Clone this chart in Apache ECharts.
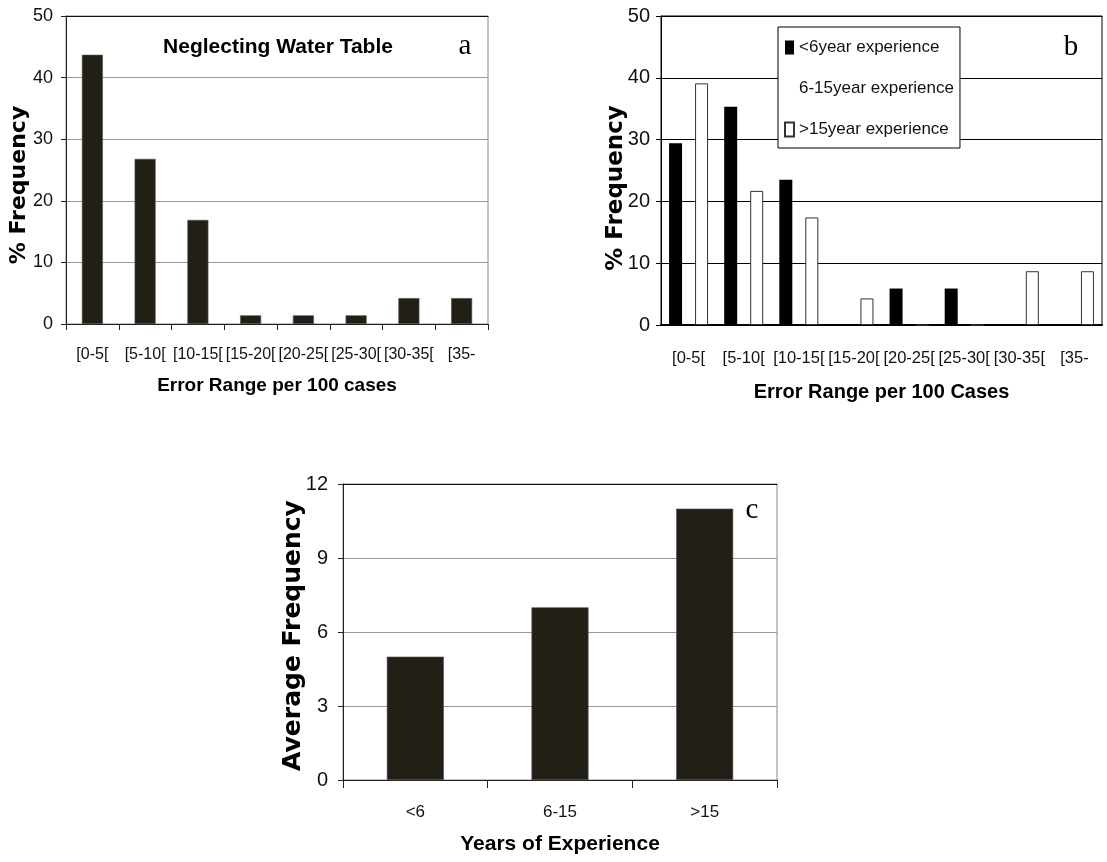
<!DOCTYPE html>
<html>
<head>
<meta charset="utf-8">
<script src="https://cdn.jsdelivr.net/npm/echarts@6/dist/echarts.min.js"></script>
<style>
  html, body { margin: 0; padding: 0; background: #fff; }
  #chart { width: 1107px; height: 862px; }
</style>
</head>
<body>
<div id="chart"></div>
<script>
// Error ranges (per 100 cases)
const rangeLabels = ['[0-5[', '[5-10[', '[10-15[', '[15-20[', '[20-25[', '[25-30[', '[30-35[', '[35-'];
// (a) neglecting water table, % frequency
const neglectWaterTable = [43.7, 26.8, 16.9, 1.4, 1.4, 1.4, 4.2, 4.2];
// (b) % frequency by experience
const under6Years = [29.4, 35.3, 23.5, 0, 5.9, 5.9, 0, 0];
const from6to15Years = [];
const over15Years = [39.1, 21.7, 17.4, 4.3, 0, 0, 8.7, 8.7];
// (c) average frequency by years of experience
const experienceGroups = ['<6', '6-15', '>15'];
const averageFrequency = [5, 7, 11];
const freqTicks = { min: 0, max: 50, interval: 10 };
const avgTicks = { min: 0, max: 12, interval: 3 };

const NARROW = '"Liberation Sans Narrow", "Arial Narrow", "Liberation Sans", Arial, sans-serif';
const WIDE_BOLD = '"DejaVu Sans", Verdana, sans-serif';
const SERIF = '"Liberation Serif", "Times New Roman", serif';
const BAR_DARK = '#211f16';

const chart = echarts.init(document.getElementById('chart'), null, { renderer: 'canvas' });

function valueAxis(grid, ticks, name, opts) {
  return {
    gridIndex: grid, type: 'value', min: ticks.min, max: ticks.max, interval: ticks.interval,
    name: name, nameLocation: 'middle', nameGap: opts.nameGap, nameMoveOverlap: false,
    nameTextStyle: { fontFamily: WIDE_BOLD, fontWeight: 'bold', fontSize: opts.nameSize, color: '#000',
                     padding: opts.namePad },
    axisLine: { show: true, lineStyle: { color: opts.axisColor, width: opts.axisWidth || 1 } },
    axisTick: { show: true, length: 5, lineStyle: { color: opts.axisColor } },
    axisLabel: { margin: opts.labelMargin, fontFamily: NARROW, fontSize: opts.labelSize, color: '#111' },
    splitLine: { show: true, lineStyle: { color: opts.gridColor, width: 1 } }
  };
}

function categoryAxis(grid, cats, name, opts) {
  return {
    gridIndex: grid, type: 'category', data: cats,
    name: name, nameLocation: 'middle', nameGap: opts.nameGap, nameMoveOverlap: false,
    nameTextStyle: { fontFamily: NARROW, fontWeight: 'bold', fontSize: opts.nameSize, color: '#000' },
    axisLine: { show: true, lineStyle: { color: opts.axisColor, width: opts.axisWidth || 1 } },
    axisTick: { show: opts.ticks, length: opts.tickLen || 6, lineStyle: { color: opts.axisColor } },
    axisLabel: { interval: 0, margin: opts.labelMargin, fontFamily: NARROW, fontSize: opts.labelSize, color: '#111' },
    splitLine: { show: false }
  };
}

// plain top edge line of each plot frame
function topEdge(grid, cats, color) {
  return {
    gridIndex: grid, type: 'category', data: cats, position: 'top',
    axisLine: { show: true, lineStyle: { color: color, width: 1 } },
    axisTick: { show: false }, axisLabel: { show: false }, splitLine: { show: false }
  };
}

const option = {
  backgroundColor: '#fff',
  animation: false,
  title: [
    { text: 'Neglecting Water Table', left: 278, top: 37, textAlign: 'center', padding: 0,
      textStyle: { fontFamily: NARROW, fontWeight: 'bold', fontSize: 21, color: '#000' } },
    { text: 'a', left: 465, top: 32, textAlign: 'center', padding: 0,
      textStyle: { fontFamily: SERIF, fontWeight: 'normal', fontSize: 29, color: '#000' } },
    { text: 'b', left: 1071, top: 33, textAlign: 'center', padding: 0,
      textStyle: { fontFamily: SERIF, fontWeight: 'normal', fontSize: 29, color: '#000' } },
    { text: 'c', left: 752, top: 496, textAlign: 'center', padding: 0,
      textStyle: { fontFamily: SERIF, fontWeight: 'normal', fontSize: 29, color: '#000' } }
  ],
  legend: {
    data: ['<6year experience', '6-15year experience', '>15year experience'],
    orient: 'vertical', left: 778, top: 27,
    padding: [12, 6, 10, 6], itemGap: 24, itemWidth: 9, itemHeight: 14,
    icon: 'rect',
    backgroundColor: '#fff', borderColor: '#000', borderWidth: 1,
    textStyle: { fontFamily: NARROW, fontSize: 17, color: '#111' },
    selectedMode: false
  },
  grid: [
    { left: 66, top: 16, width: 422, height: 308, show: true, borderColor: '#888', borderWidth: 1, outerBoundsMode: 'none' },
    { left: 661, top: 16, width: 441, height: 309, show: true, borderColor: '#000', borderWidth: 1, outerBoundsMode: 'none' },
    { left: 343, top: 484, width: 434, height: 296, show: true, borderColor: '#888', borderWidth: 1, outerBoundsMode: 'none' }
  ],
  xAxis: [
    categoryAxis(0, rangeLabels, 'Error Range per 100 cases',
      { nameGap: 52, nameSize: 19, axisColor: '#222', ticks: true, tickLen: 6, labelMargin: 23, labelSize: 16 }),
    categoryAxis(1, rangeLabels, 'Error Range per 100 Cases',
      { nameGap: 57, nameSize: 20, axisColor: '#000', axisWidth: 2, ticks: false, labelMargin: 25, labelSize: 16.5 }),
    categoryAxis(2, experienceGroups, 'Years of Experience',
      { nameGap: 54, nameSize: 21, axisColor: '#222', ticks: true, tickLen: 8, labelMargin: 24, labelSize: 17 }),
    topEdge(0, rangeLabels, '#111'),
    topEdge(1, rangeLabels, '#000'),
    topEdge(2, experienceGroups, '#111')
  ],
  yAxis: [
    valueAxis(0, freqTicks, '% Frequency',
      { nameGap: 36, nameSize: 22, namePad: [0, 30, 0, 0], axisColor: '#222', gridColor: '#999', labelMargin: 13, labelSize: 18 }),
    valueAxis(1, freqTicks, '% Frequency',
      { nameGap: 33, nameSize: 23, namePad: [0, 35, 0, 0], axisColor: '#000', gridColor: '#000', labelMargin: 11, labelSize: 20 }),
    valueAxis(2, avgTicks, 'Average Frequency',
      { nameGap: 37, nameSize: 25, namePad: [0, 7, 0, 0], axisColor: '#222', gridColor: '#999', labelMargin: 15, labelSize: 20 })
  ],
  series: [
    { type: 'bar', name: 'Neglecting Water Table', xAxisIndex: 0, yAxisIndex: 0, data: neglectWaterTable,
      barWidth: 21, itemStyle: { color: BAR_DARK, borderColor: '#55534a', borderWidth: 0.6 } },
    { type: 'bar', name: '<6year experience', xAxisIndex: 1, yAxisIndex: 1, data: under6Years,
      barWidth: 13, barGap: 0, itemStyle: { color: '#000' } },
    { type: 'bar', name: '6-15year experience', xAxisIndex: 1, yAxisIndex: 1, data: from6to15Years,
      barWidth: 13, barGap: 0, itemStyle: { color: '#fff', borderWidth: 0 } },
    { type: 'bar', name: '>15year experience', xAxisIndex: 1, yAxisIndex: 1, data: over15Years,
      barWidth: 13, barGap: 0, itemStyle: { color: '#fff', borderColor: '#333', borderWidth: 1 } },
    { type: 'bar', name: 'Average Frequency', xAxisIndex: 2, yAxisIndex: 2, data: averageFrequency,
      barWidth: 57, itemStyle: { color: BAR_DARK, borderColor: '#55534a', borderWidth: 0.6 } }
  ]
};

chart.setOption(option);
</script>
</body>
</html>
